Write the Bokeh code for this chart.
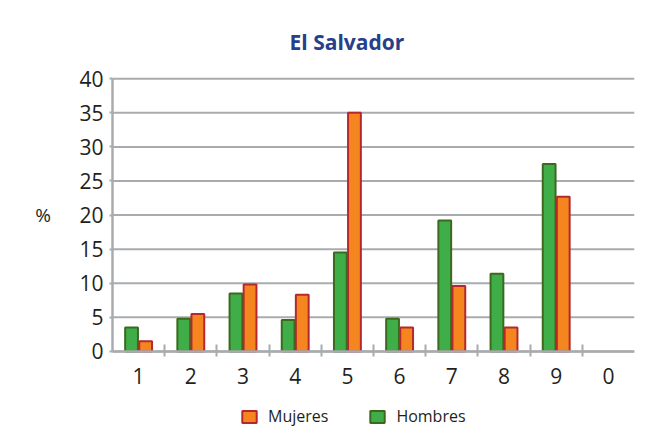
from bokeh.plotting import figure
from bokeh.models import Range1d, FixedTicker, Legend, LegendItem, ColumnDataSource, Label
from bokeh.embed import file_html
from bokeh.resources import INLINE
import numpy as np

title_text = "El Salvador"
y_label = "%"
categories = ["1", "2", "3", "4", "5", "6", "7", "8", "9", "0"]
hombres = [3.5, 4.8, 8.5, 4.6, 14.5, 4.8, 19.2, 11.4, 27.5]
mujeres = [1.5, 5.5, 9.8, 8.3, 35.0, 3.5, 9.6, 3.5, 22.7]
y_ticks = [0, 5, 10, 15, 20, 25, 30, 35, 40]
series_names = ["Mujeres", "Hombres"]

FONT = "Open Sans"
GRID = "#a9abae"
TXT = "#231f20"
G_FILL, G_LINE = "#3fae49", "#3b6a1e"
O_FILL, O_LINE = "#f5861f", "#b5282e"

ncat = len(categories)
centers = np.arange(ncat) + 0.5
n = len(hombres)
bar_w = 0.245
off = 0.135

# the frame extends around the axes to host tick labels, "%" and legend
p = figure(width=640, height=432, output_backend="svg", toolbar_location=None,
           x_range=Range1d(-1.686, ncat), y_range=Range1d(-11.9, 41.5),
           min_border_left=24, min_border_right=6, min_border_top=68, min_border_bottom=0)
p.background_fill_color = "white"
p.border_fill_color = "white"
p.outline_line_color = None

p.title.text = title_text
p.title.text_font = FONT
p.title.text_font_style = "bold"
p.title.text_font_size = "21px"
p.title.text_color = "#26408b"
p.title.align = "left"
p.title.offset = 265
p.title.standoff = 26

# horizontal grid lines, only over the category area
grid_src = ColumnDataSource(dict(y=y_ticks))
p.segment(x0=0, y0="y", x1=ncat, y1="y", source=grid_src, line_color=GRID, line_width=2)

src_h = ColumnDataSource(dict(x=centers[:n] - off, top=hombres))
src_m = ColumnDataSource(dict(x=centers[:n] + off, top=mujeres))
rh = p.vbar(x="x", top="top", width=bar_w, bottom=0, source=src_h,
            fill_color=G_FILL, line_color=G_LINE, line_width=2)
rm = p.vbar(x="x", top="top", width=bar_w, bottom=0, source=src_m,
            fill_color=O_FILL, line_color=O_LINE, line_width=2)

# x axis drawn at y = 0
xa = p.xaxis[0]
xa.fixed_location = 0
xa.bounds = (0, ncat)
xa.ticker = FixedTicker(ticks=list(centers), minor_ticks=list(np.arange(1, ncat)))
xa.major_label_overrides = {float(c): lab for c, lab in zip(centers, categories)}
xa.major_tick_in = 0
xa.major_tick_out = 0
xa.minor_tick_in = 7
xa.minor_tick_out = 5
xa.minor_tick_line_color = GRID
xa.minor_tick_line_width = 2
xa.axis_line_color = GRID
xa.axis_line_width = 2.5
xa.major_label_text_font = FONT
xa.major_label_text_font_size = "21px"
xa.major_label_text_color = TXT
xa.major_label_standoff = 12

# y axis drawn at x = 0
ya = p.yaxis[0]
ya.fixed_location = 0
ya.bounds = (y_ticks[0], y_ticks[-1])
ya.ticker = FixedTicker(ticks=y_ticks)
ya.major_tick_in = 0
ya.major_tick_out = 3
ya.minor_tick_line_color = None
ya.major_tick_line_color = GRID
ya.major_tick_line_width = 2
ya.axis_line_color = GRID
ya.axis_line_width = 2.5
ya.major_label_text_font = FONT
ya.major_label_text_font_size = "21px"
ya.major_label_text_color = TXT
ya.major_label_standoff = 6

p.xgrid.grid_line_color = None
p.ygrid.grid_line_color = None

pct = Label(x=-1.33, y=(y_ticks[0] + y_ticks[-1]) / 2, text=y_label, text_font=FONT,
            text_font_size="19px", text_color=TXT, text_align="center",
            text_baseline="middle")
p.add_layout(pct)

legend = Legend(items=[LegendItem(label=series_names[0], renderers=[rm]),
                       LegendItem(label=series_names[1], renderers=[rh])],
                orientation="horizontal", location=(216, 5))
legend.label_text_font = FONT
legend.label_text_font_size = "16px"
legend.label_text_color = TXT
legend.glyph_width = 18
legend.glyph_height = 15
legend.label_standoff = 10
legend.spacing = 40
legend.padding = 0
legend.margin = 0
legend.border_line_color = None
legend.background_fill_alpha = 0
p.add_layout(legend, "center")

open("out.html", "w").write(file_html(p, INLINE))
